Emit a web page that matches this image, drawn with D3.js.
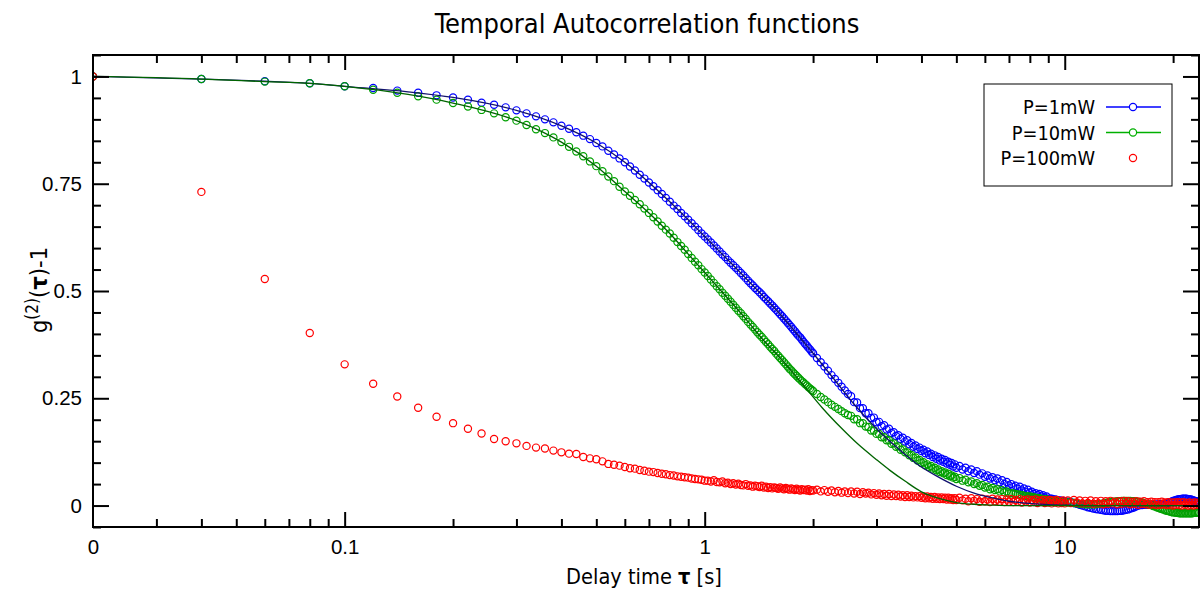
<!DOCTYPE html>
<html>
<head>
<meta charset="utf-8">
<script src="https://cdn.jsdelivr.net/npm/d3@7"></script>
<style>
  body { margin: 0; background: #fff; }
  svg { display: block; font-family: "DejaVu Sans Condensed", "DejaVu Sans", sans-serif; }
</style>
</head>
<body>
<div id="chart"></div>
<script>
// Correlator lag grid: [first lag, step, count] (seconds)
const lagBlocks = [[0.02, 0.02, 50], [1.02, 0.02, 50], [2.05, 0.05, 60], [5.1, 0.1, 50], [10.2, 0.2, 68]];

// g2(tau)-1 values, in thousandths (one row block per lag block)
const blue1mW = [
  1000,994,989,984,977,973,967,962,956,951, 946,939,934,928,921,914,907,900,893,885,
  878,870,862,854,845,837,827,818,809,800, 790,781,771,762,753,744,735,726,717,708,
  699,691,682,674,666,658,650,642,634,627,
  620,613,606,599,592,585,579,572,566,560, 554,548,542,536,530,524,518,513,507,502,
  497,492,486,481,476,471,466,461,456,451, 446,441,436,431,426,421,416,411,406,401,
  396,392,387,382,377,373,368,364,359,355,
  344,334,324,314,304,295,286,277,268,260, 255,241,240,227,227,215,215,204,205,194,
  195,185,187,177,179,169,171,162,164,155, 158,149,152,143,146,137,140,132,135,127,
  130,122,126,118,121,113,117,109,113,105, 109,102,106,98,102,95,99,91,96,88,
  92,84,88,80,84,76,80,72,75,67, 70,63,66,59,63,54,59,50,55,47,
  50,43,46,39,44,35,40,32,37,30, 32,27,29,24,27,21,24,18,21,16,
  16,16,14,14,13,12,12,11,11,10,
  9,8,6,4,2,0,-2,-4,-5,-7, -8,-9,-10,-11,-12,-12,-13,-13,-13,-13,
  -12,-12,-11,-10,-9,-7,-6,-4,-2,0, 1,1,2,2,2,2,2,2,2,2,
  3,3,3,4,4,5,7,8,9,11, 12,13,14,15,15,16,16,16,16,15,
  15,14,13,12,11,10,9,8
];

const green10mW = [
  1000,994,988,984,977,969,962,954,946,938, 930,922,914,905,897,887,877,868,858,847,
  836,825,814,802,791,779,767,756,743,732, 722,712,702,692,682,672,662,652,643,634,
  624,614,605,596,586,577,568,560,551,543,
  535,527,519,511,504,496,489,482,475,468, 461,454,448,441,435,428,422,416,410,404,
  398,393,387,381,376,370,365,360,354,349, 344,339,334,329,324,319,315,310,306,302,
  298,294,290,287,283,280,276,273,270,267,
  260,253,247,241,235,230,225,220,215,211, 209,201,201,192,192,184,183,175,175,167,
  167,159,159,152,152,144,145,137,138,130, 131,124,124,117,118,111,112,105,106,99,
  101,94,96,90,92,86,88,82,84,78, 80,75,77,71,74,68,70,65,67,62,
  64,58,60,54,56,50,52,46,48,42, 44,38,41,36,38,33,36,31,33,28,
  29,28,27,26,25,24,23,22,21,21, 20,19,18,17,17,16,15,14,14,13,
  12,12,11,11,10,10,9,9,8,8,
  7,7,6,5,4,4,3,3,3,3, 3,4,4,5,6,7,8,9,9,10,
  10,11,11,11,11,11,10,10,9,9, 8,7,5,4,3,2,1,-1,-2,-4,
  -5,-7,-8,-9,-11,-12,-13,-14,-15,-16, -16,-17,-17,-18,-18,-18,-18,-18,-18,-18,
  -18,-18,-18,-17,-17,-17,-16,-16
];

const red100mW = [
  1000,731,528,402,329,284,254,228,207,192, 179,168,155,150,145,139,135,133,128,124,
  121,120,113,110,108,103,97,95,93,90, 87,86,83,81,79,78,76,74,73,71,
  70,68,67,66,65,63,62,61,60,58,
  58,56,59,55,54,56,52,53,50,52, 49,51,48,47,50,46,47,44,46,45,
  43,46,42,44,41,43,40,42,41,39, 42,40,38,41,39,37,40,38,36,39,
  37,35,38,36,37,35,38,34,36,35,
  37,33,36,32,35,31,34,30,33,29, 33,28,32,27,31,28,30,26,29,25,
  28,24,27,23,27,22,26,22,25,21, 24,20,24,20,23,19,22,19,22,18,
  21,17,21,17,20,16,20,16,19,15, 19,15,18,14,18,14,17,13,17,13,
  18,12,16,10,17,11,15,9,16,10, 14,8,16,10,14,9,15,8,14,9,
  15,8,13,9,15,7,13,9,14,7, 13,8,14,6,12,8,13,6,12,7,
  13,5,12,7,13,5,11,6,12,5,
  12,6,13,7,12,5,11,6,12,4, 10,5,11,3,10,4,11,5,9,3,
  10,4,11,5,10,3,9,4,10,2, 9,4,10,3,8,2,9,3,8,1,
  8,2,9,3,7,1,8,2,7,0, 7,2,8,1,7,0,8,2,6,0,
  7,1,6,0,7,2,6,1
];

// Fit curves
const fitTau1mW = [0.02,0.04,0.06,0.08,0.1,0.15,0.2,0.3,0.4,0.5,0.6,0.7,0.8,0.9,1.0,1.2,1.4,1.6,1.8,2.0,2.3,2.6,3.0,3.4,3.87,4.4,5.0,5.6,6.3,7.0,8.0,9.0,10,12,15,23.6];
const fit1mW = [1.0,0.994,0.989,0.984,0.977,0.964,0.951,0.921,0.885,0.845,0.800,0.753,0.708,0.666,0.627,0.560,0.502,0.451,0.401,0.355,0.292,0.236,0.179,0.137,0.098,0.069,0.045,0.029,0.018,0.010,0.005,0.002,0.001,0,0,0];
const fitTau10mW = [0.02,0.04,0.06,0.08,0.1,0.15,0.2,0.3,0.4,0.5,0.6,0.7,0.8,0.9,1.0,1.15,1.3,1.45,1.6,1.72,1.9,2.12,2.4,2.65,3.0,3.27,3.6,4.0,4.5,5.0,5.6,6.3,7,8,10,23.6];
const fit10mW = [1.0,0.994,0.988,0.984,0.977,0.958,0.938,0.897,0.847,0.791,0.732,0.682,0.634,0.586,0.543,0.486,0.435,0.387,0.349,0.319,0.276,0.228,0.18,0.145,0.107,0.082,0.057,0.032,0.016,0.007,0.003,0.001,0,0,0,0];

const legendLabels = ['P=1mW', 'P=10mW', 'P=100mW'];
const xMajorTicks = [0.02, 0.1, 1, 10];
const xMinorTicks = [0.03,0.04,0.05,0.06,0.07,0.08,0.09, 0.2,0.3,0.4,0.5,0.6,0.7,0.8,0.9, 2,3,4,5,6,7,8,9, 20];
const yMajorTicks = [0, 0.25, 0.5, 0.75, 1];
const yMinorTicks = [-0.05,0.05,0.1,0.15,0.2,0.3,0.35,0.4,0.45,0.55,0.6,0.65,0.7,0.8,0.85,0.9,0.95,1.05];

const width = 1201;
const height = 590;
const plot = {left: 93, right: 1199, top: 55, bottom: 527};

const tau = lagBlocks.flatMap(([t0, dt, n]) => d3.range(n).map(i => +(t0 + i * dt).toFixed(2)));
const toPoints = vals => vals.map((v, i) => ({t: tau[i], v: v / 1000}));

const series = [
  {name: legendLabels[0], color: '#0000ff', points: toPoints(blue1mW)},
  {name: legendLabels[1], color: '#00a000', points: toPoints(green10mW)},
  {name: legendLabels[2], color: '#ff0000', points: toPoints(red100mW)},
];
const fits = [
  {color: '#12126e', points: fitTau1mW.map((t, i) => ({t, v: fit1mW[i]}))},
  {color: '#006400', points: fitTau10mW.map((t, i) => ({t, v: fit10mW[i]}))},
];

const x = d3.scaleLog().domain([0.02, 23.6]).range([plot.left, plot.right]);
const y = d3.scaleLinear().domain([-0.05, 1.05]).range([plot.bottom, plot.top]);

const svg = d3.select('#chart').append('svg')
  .attr('width', width)
  .attr('height', height);

// clip data to the plot box
svg.append('defs').append('clipPath').attr('id', 'clip')
  .append('rect')
  .attr('x', plot.left).attr('y', plot.top)
  .attr('width', plot.right - plot.left).attr('height', plot.bottom - plot.top);

const dataLayer = svg.append('g').attr('clip-path', 'url(#clip)');

series.forEach(s => {
  dataLayer.append('g')
    .selectAll('circle')
    .data(s.points)
    .enter()
    .append('circle')
    .attr('cx', d => x(d.t))
    .attr('cy', d => y(d.v))
    .attr('r', 3.6)
    .attr('fill', 'none')
    .attr('stroke', s.color)
    .attr('stroke-width', 1.2);
});

const line = d3.line()
  .x(d => x(d.t))
  .y(d => y(d.v))
  .curve(d3.curveMonotoneX);

fits.forEach(f => {
  dataLayer.append('path')
    .datum(f.points)
    .attr('d', line)
    .attr('fill', 'none')
    .attr('stroke', f.color)
    .attr('stroke-width', 1.3);
});

// axes: ticks point inward and are mirrored on the opposite side
const tickFont = 20.5;
const fmtX = d => d === 0.02 ? '0' : d3.format('~g')(d);
const fmtY = d => d3.format('~g')(d);

function addAxis(axis, tx, ty) {
  const g = svg.append('g').attr('transform', `translate(${tx},${ty})`).call(axis);
  g.select('.domain').remove();
  g.selectAll('.tick line').attr('stroke', '#000').attr('stroke-width', 2);
  g.selectAll('.tick text').attr('font-size', tickFont).attr('fill', '#000')
    .attr('font-family', 'inherit');
  return g;
}

const xMajBottom = addAxis(d3.axisBottom(x).tickValues(xMajorTicks).tickFormat(fmtX).tickSize(-15).tickPadding(12), 0, plot.bottom);
xMajBottom.selectAll('.tick').filter(d => d === 0.02).select('line').remove();
addAxis(d3.axisBottom(x).tickValues(xMinorTicks).tickFormat('').tickSize(-8), 0, plot.bottom);
const xMajTop = addAxis(d3.axisTop(x).tickValues(xMajorTicks).tickFormat('').tickSize(-15), 0, plot.top);
xMajTop.selectAll('.tick').filter(d => d === 0.02).remove();
addAxis(d3.axisTop(x).tickValues(xMinorTicks).tickFormat('').tickSize(-8), 0, plot.top);

addAxis(d3.axisLeft(y).tickValues(yMajorTicks).tickFormat(fmtY).tickSize(-16).tickPadding(11), plot.left, 0);
addAxis(d3.axisLeft(y).tickValues(yMinorTicks).tickFormat('').tickSize(-8), plot.left, 0);
addAxis(d3.axisRight(y).tickValues(yMajorTicks).tickFormat('').tickSize(-16), plot.right, 0);
addAxis(d3.axisRight(y).tickValues(yMinorTicks).tickFormat('').tickSize(-8), plot.right, 0);

// frame
svg.append('rect')
  .attr('x', plot.left).attr('y', plot.top)
  .attr('width', plot.right - plot.left).attr('height', plot.bottom - plot.top)
  .attr('fill', 'none')
  .attr('stroke', '#000')
  .attr('stroke-width', 2);

// title and axis labels
svg.append('text')
  .attr('x', 647).attr('y', 33)
  .attr('text-anchor', 'middle')
  .attr('font-size', 27)
  .text('Temporal Autocorrelation functions');

const xLabel = svg.append('text')
  .attr('x', 644).attr('y', 584)
  .attr('text-anchor', 'middle')
  .attr('font-size', 21.6);
xLabel.append('tspan').text('Delay time ');
xLabel.append('tspan').attr('font-weight', 'bold').text('τ');
xLabel.append('tspan').text(' [s]');

const yLabel = svg.append('text')
  .attr('transform', 'translate(47,290) rotate(-90)')
  .attr('text-anchor', 'middle')
  .attr('font-size', 23.5);
yLabel.append('tspan').text('g');
yLabel.append('tspan').attr('font-size', 17).attr('dy', -9).text('(2)');
yLabel.append('tspan').attr('dy', 9).text('(');
yLabel.append('tspan').attr('font-weight', 'bold').text('τ');
yLabel.append('tspan').text(')-1');

// legend
const legend = svg.append('g');
legend.append('rect')
  .attr('x', 984).attr('y', 84)
  .attr('width', 188).attr('height', 102)
  .attr('fill', '#fff')
  .attr('stroke', '#000')
  .attr('stroke-width', 1);

const legendRows = [
  {label: legendLabels[0], color: '#0000ff', line: true},
  {label: legendLabels[1], color: '#00b000', line: true},
  {label: legendLabels[2], color: '#ff0000', line: false},
];
const legendY = d3.scalePoint().domain(legendLabels).range([107, 158]);

legendRows.forEach(r => {
  const ly = legendY(r.label);
  legend.append('text')
    .attr('x', 1095).attr('y', ly)
    .attr('dy', '0.36em')
    .attr('text-anchor', 'end')
    .attr('font-size', 19.8)
    .text(r.label);
  if (r.line) {
    legend.append('line')
      .attr('x1', 1106).attr('x2', 1161)
      .attr('y1', ly).attr('y2', ly)
      .attr('stroke', r.color)
      .attr('stroke-width', 1.3);
  }
  legend.append('circle')
    .attr('cx', 1133).attr('cy', ly)
    .attr('r', 3.6)
    .attr('fill', r.line ? '#fff' : 'none')
    .attr('stroke', r.color)
    .attr('stroke-width', 1.2);
});
</script>
</body>
</html>
